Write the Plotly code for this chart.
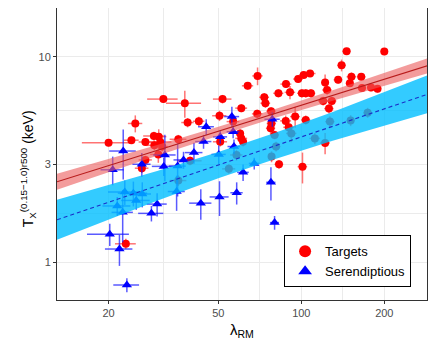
import math

import plotly.graph_objects as go

# --- Targets (red circles) ---
tgt_lambda = [20.0, 24.2, 25.0, 27.2, 29.2, 30.4, 30.8, 29.3, 31.3, 31.6,
              37.8, 35.8, 38.7, 42.5, 27.2, 26.4, 30.3, 39.5, 23.1, 51.8,
              63.9, 69.4, 60.6, 50.5, 56.6, 50.8, 60.6, 61.5, 60.0, 54.6,
              73.4, 74.1, 82.6, 88.0, 91.0, 77.7, 69.2, 97.4, 102.0, 107.6,
              100.5, 103.8, 108.4, 95.0, 87.8, 103.8, 77.9, 77.4, 90.0, 92.0,
              80.0, 83.0, 78.0, 101.0, 122.0, 122.0, 136.0, 140.0, 146.0, 200.0,
              152.0, 165.0, 150.0, 124.0, 166.0, 179.0, 189.0, 129.0, 120.0, 126.0,
              35.8, 58.2, 81.0, 127.0, 151.0, 174.0, 112.0]
tgt_tx = [3.82, 3.93, 4.74, 3.85, 4.12, 4.09, 3.85, 3.71, 3.66, 6.23,
          5.95, 3.97, 4.79, 4.86, 3.15, 2.87, 3.35, 3.12, 1.23, 6.23,
          7.23, 8.08, 5.63, 5.17, 4.84, 3.86, 4.01, 3.86, 4.24, 2.85,
          6.36, 5.95, 6.65, 7.37, 6.72, 5.44, 5.28, 7.80, 8.17, 8.30,
          6.65, 6.65, 6.65, 5.12, 4.88, 4.93, 4.74, 4.49, 4.54, 4.24,
          4.17, 3.00, 3.27, 2.92, 3.81, 7.50, 7.73, 9.10, 10.66, 10.63,
          8.00, 8.00, 7.45, 6.90, 7.05, 7.10, 7.00, 6.10, 6.10, 5.60,
          2.50, 3.33, 3.66, 4.84, 4.90, 5.35, 4.01]
tgt_lambda_err = [4.0, 1.5, 1.5, 1.5, 2.5, 2.0, 3.0, 2.0, 1.5, 4.0,
                  5.5, 2.5, 2.0, 2.0, 1.5, 1.5, 2.0, 4.0, 2.0, 4.0,
                  3.0, 3.0, 3.0, 3.0, 3.0, 3.0, 3.0, 2.0, 2.0, 3.0,
                  3.0, 3.0, 3.5, 4.0, 4.0, 3.0, 3.0, 4.0, 4.0, 5.0,
                  4.0, 3.0, 4.0, 4.0, 4.0, 4.0, 3.0, 3.0, 4.0, 4.0,
                  3.0, 3.0, 2.0, 4.0, 5.0, 4.0, 5.0, 5.0, 5.0, 6.0,
                  6.0, 6.0, 5.0, 5.0, 6.0, 6.0, 6.0, 5.0, 5.0, 5.0,
                  2.5, 3.0, 3.0, 5.0, 5.0, 6.0, 5.0]
tgt_tx_err = [0.15, 0.15, 0.45, 0.15, 0.20, 0.35, 0.30, 0.20, 0.20, 0.25,
              0.90, 0.20, 0.25, 0.25, 0.15, 0.15, 0.30, 0.15, 0.07, 0.30,
              0.30, 0.80, 0.25, 0.30, 0.20, 0.20, 0.20, 0.20, 0.20, 0.15,
              0.30, 0.30, 0.30, 0.30, 0.50, 0.25, 0.25, 0.30, 0.30, 0.30,
              0.30, 0.30, 0.30, 0.60, 0.30, 0.25, 0.30, 0.30, 0.30, 0.40,
              0.20, 0.15, 0.20, 0.50, 0.45, 0.70, 0.30, 0.60, 0.40, 0.30,
              0.40, 0.30, 0.30, 0.35, 0.30, 0.30, 0.30, 0.30, 0.30, 0.30,
              0.15, 0.20, 0.20, 0.30, 0.30, 0.30, 0.25]

# --- Serendiptious (blue triangles) ---
ser_lambda = [22.6, 20.7, 26.4, 32.0, 31.7, 35.6, 37.4, 40.8, 44.2, 45.2,
              56.0, 50.8, 56.6, 78.5, 57.0, 50.2, 50.5, 58.3, 61.5, 67.5,
              77.6, 80.0, 43.2, 35.3, 30.0, 28.6, 22.5, 20.2, 21.9, 23.3,
              22.9, 24.6, 21.5, 25.2, 26.5]
ser_tx = [3.48, 2.82, 3.00, 3.33, 2.93, 2.94, 3.15, 3.42, 3.87, 4.57,
          5.12, 4.08, 4.32, 4.97, 3.66, 3.35, 2.08, 2.18, 2.74, 3.03,
          2.45, 1.56, 1.94, 2.21, 1.92, 1.73, 1.75, 1.37, 1.16, 0.775,
          2.20, 2.17, 1.88, 2.00, 2.15]
ser_lambda_err = [2.5, 2.0, 2.0, 3.0, 3.0, 2.5, 3.0, 3.0, 3.0, 3.0,
                  3.5, 3.0, 3.0, 5.0, 3.0, 3.0, 4.0, 3.0, 3.0, 3.0,
                  3.0, 3.0, 4.0, 2.5, 2.5, 3.0, 2.0, 3.5, 2.5, 2.5,
                  3.0, 3.0, 2.5, 3.0, 2.0]
ser_tx_err = [0.95, 0.45, 0.40, 0.85, 0.30, 0.85, 0.30, 0.40, 0.30, 0.40,
              0.60, 0.30, 0.30, 0.40, 0.30, 0.35, 0.40, 0.27, 0.25, 0.20,
              0.45, 0.12, 0.33, 0.43, 0.25, 0.15, 0.50, 0.17, 0.20, 0.06,
              0.30, 0.30, 0.20, 0.20, 0.30]

# --- fitted relations with confidence bands ---
fit_lambda = [13, 20, 30, 50, 80, 130, 200, 286]
tgt_fit = [2.466, 2.956, 3.505, 4.345, 5.293, 6.489, 7.778, 9.04]
tgt_lo = [2.255, 2.746, 3.299, 4.133, 5.038, 6.122, 7.240, 8.308]
tgt_hi = [2.698, 3.182, 3.724, 4.567, 5.561, 6.879, 8.354, 9.836]
ser_fit = [1.611, 1.959, 2.356, 2.972, 3.681, 4.590, 5.582, 6.571]
ser_lo = [1.288, 1.619, 1.995, 2.565, 3.178, 3.902, 4.632, 5.312]
ser_hi = [2.014, 2.372, 2.783, 3.446, 4.263, 5.398, 6.731, 8.128]

x_ticks = [20, 50, 100, 200]
y_ticks = [1, 3, 10]

GRID = "#EBEBEB"
AXIS = "#333333"
TICKTXT = "#4D4D4D"

fig = go.Figure()


def add_points(lam, tx, dlam, dtx, name, color, bar_color, symbol, size):
    fig.add_trace(go.Scatter(
        x=lam, y=tx, mode="markers", name=name,
        marker={"color": color, "symbol": symbol, "size": size, "line": {"width": 0}},
        error_x={"type": "data", "array": dlam, "color": bar_color, "thickness": 1.5, "width": 0},
        error_y={"type": "data", "array": dtx, "color": bar_color, "thickness": 1.5, "width": 0},
    ))


def add_band(lo, hi, fit, fill, line_color, dash):
    fig.add_trace(go.Scatter(x=fit_lambda, y=lo, mode="lines", line={"width": 0},
                             showlegend=False, hoverinfo="skip"))
    fig.add_trace(go.Scatter(x=fit_lambda, y=hi, mode="lines", line={"width": 0},
                             fill="tonexty", fillcolor=fill,
                             showlegend=False, hoverinfo="skip"))
    fig.add_trace(go.Scatter(x=fit_lambda, y=fit, mode="lines",
                             line={"color": line_color, "width": 1.1, "dash": dash},
                             showlegend=False, hoverinfo="skip"))


add_points(tgt_lambda, tgt_tx, tgt_lambda_err, tgt_tx_err, "Targets",
           "#FF0000", "rgba(255,40,40,0.65)", "circle", 8)
add_points(ser_lambda, ser_tx, ser_lambda_err, ser_tx_err, "Serendiptious",
           "#0000FF", "rgba(20,20,255,0.7)", "triangle-up", 9)

add_band(tgt_lo, tgt_hi, tgt_fit, "rgba(235,90,90,0.6)", "#B81C1C", "solid")
add_band(ser_lo, ser_hi, ser_fit, "rgba(0,190,255,0.8)", "#1A2FC8", "4px,3px")

minor_x = [math.sqrt(a * b) for a, b in zip(x_ticks, x_ticks[1:])]
minor_y = [math.sqrt(a * b) for a, b in zip(y_ticks, y_ticks[1:])]

# page body adds an 8px offset, so the figure is sized to fit the rest of the window
fig.update_layout(
    width=428, height=341,
    margin={"l": 49, "r": 9, "t": 0, "b": 49},
    paper_bgcolor="white", plot_bgcolor="white",
    font={"family": "Liberation Sans, Arial, sans-serif", "color": "black"},
    legend={
        "x": 0.957, "y": 0.0435, "xanchor": "right", "yanchor": "bottom",
        "bordercolor": "black", "borderwidth": 1, "bgcolor": "white",
        "font": {"size": 13, "color": "black"}, "itemsizing": "constant",
        "traceorder": "normal",
    },
    annotations=[
        {"text": "λ<sub>RM</sub>", "xref": "paper", "yref": "paper",
         "x": 0.5, "y": -0.105, "xanchor": "center", "yanchor": "middle",
         "showarrow": False, "font": {"size": 15}},
        {"text": "T<sub>X</sub><sup>(0.15−1.0)r500</sup> (keV)", "xref": "paper", "yref": "paper",
         "x": -0.079, "y": 0.45, "xanchor": "center", "yanchor": "middle",
         "textangle": -90, "showarrow": False, "font": {"size": 14}},
    ],
)
fig.update_xaxes(
    type="log", range=[math.log10(13.0), math.log10(285.7)],
    tickvals=x_ticks, ticktext=[str(v) for v in x_ticks],
    tickfont={"size": 11, "color": TICKTXT},
    ticks="outside", ticklen=3, tickcolor=AXIS,
    showline=True, linecolor=AXIS, linewidth=1, mirror=True,
    showgrid=True, gridcolor=GRID, gridwidth=1, zeroline=False,
    minor={"tickvals": minor_x, "showgrid": True, "gridcolor": GRID, "gridwidth": 0.6, "ticks": ""},
)
fig.update_yaxes(
    type="log", range=[math.log10(0.655), math.log10(17.3)],
    tickvals=y_ticks, ticktext=[str(v) for v in y_ticks],
    tickfont={"size": 11, "color": TICKTXT},
    ticks="outside", ticklen=3, tickcolor=AXIS,
    showline=True, linecolor=AXIS, linewidth=1, mirror=True,
    showgrid=True, gridcolor=GRID, gridwidth=1, zeroline=False,
    minor={"tickvals": minor_y, "showgrid": True, "gridcolor": GRID, "gridwidth": 0.6, "ticks": ""},
)

fig.write_html("out.html")
